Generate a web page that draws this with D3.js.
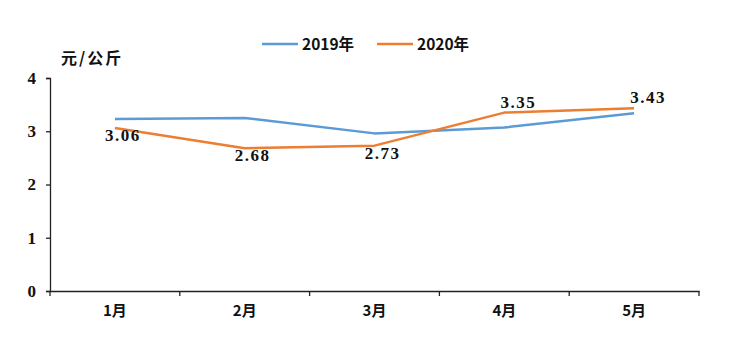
<!DOCTYPE html>
<html><head><meta charset="utf-8">
<script src="https://cdn.jsdelivr.net/npm/d3@7"></script>
<style>
body{margin:0;background:#fff;}
svg text{fill:#111;}
</style></head>
<body><svg id="c" width="749" height="345"></svg>
<script>
const categories = ["1月","2月","3月","4月","5月"];
const series2019 = [3.23, 3.25, 2.96, 3.07, 3.34];
const series2020 = [3.06, 2.68, 2.73, 3.35, 3.43];
const labels2020 = ["3.06","2.68","2.73","3.35","3.43"];
const labelPlace = ["below","below","below","above","above"];
const yTicks = [0,1,2,3,4];
const seriesNames = ["2019年","2020年"];
const colors = ["#5B9BD5","#ED7D31"];

(function(){
const svg = d3.select("#c");
const mLeft = 50, mRight = 699, mTop = 78, mBottom = 291;
const x = d3.scaleBand().domain(categories).range([mLeft, mRight]);
const y = d3.scaleLinear().domain([0,4]).range([mBottom, mTop]);

const numFont = "'Liberation Serif', 'DejaVu Serif', serif";
const cjkFont = "'Noto Sans CJK SC', sans-serif";

// y axis
const ya = svg.append("g").attr("transform",`translate(${mLeft},0)`)
  .call(d3.axisLeft(y).tickValues(yTicks).tickSize(4).tickPadding(10).tickFormat(d3.format("d")));
ya.select(".domain").attr("stroke","#222").attr("stroke-width",1.3);
ya.selectAll(".tick line").attr("stroke","#222").attr("stroke-width",1.3);
ya.selectAll(".tick text").attr("font-family",numFont).attr("font-weight","bold").attr("font-size",17).attr("fill","#111");

// x axis
const xa = svg.append("g").attr("transform",`translate(0,${mBottom})`)
  .call(d3.axisBottom(x).tickSize(0).tickPadding(14));
xa.select(".domain").attr("stroke","#222").attr("stroke-width",1.3);
xa.selectAll(".tick text").attr("font-family",cjkFont).attr("font-weight","bold").attr("font-size",15).attr("fill","#111");
const bounds = categories.map(c => x(c)).concat([x(categories[categories.length-1]) + x.bandwidth()]);
svg.append("g").selectAll("line").data(bounds).join("line")
  .attr("x1",d=>d).attr("x2",d=>d).attr("y1",mBottom).attr("y2",mBottom+5)
  .attr("stroke","#222").attr("stroke-width",1.3);

// y title
svg.append("text").attr("x",61).attr("y",64).attr("font-family",cjkFont).attr("font-weight","bold")
  .attr("font-size",16).attr("letter-spacing",2).text("元/公斤");

// lines
const line = d3.line().x((d,i)=>x(categories[i]) + x.bandwidth()/2).y(d=>y(d));
[series2019, series2020].forEach((s,k)=>{
  svg.append("path").datum(s).attr("d",line).attr("fill","none")
    .attr("stroke",colors[k]).attr("stroke-width",2.5).attr("stroke-linejoin","round");
});

// labels
svg.append("g").selectAll("text").data(series2020).join("text")
  .attr("x",(d,i)=>x(categories[i]) + x.bandwidth()/2 + (labelPlace[i]==="above" ? 14 : 8))
  .attr("y",(d,i)=>y(d) + (labelPlace[i]==="above" ? -5 : 13))
  .attr("text-anchor","middle").attr("font-family",numFont).attr("font-weight","bold")
  .attr("font-size",17).attr("letter-spacing",1.5).text((d,i)=>labels2020[i]);

// legend
const lx = [262, 377];
seriesNames.forEach((n,k)=>{
  svg.append("line").attr("x1",lx[k]).attr("x2",lx[k]+36).attr("y1",44).attr("y2",44)
    .attr("stroke",colors[k]).attr("stroke-width",2.5);
  svg.append("text").attr("x",lx[k]+40).attr("y",50).attr("font-family",cjkFont).attr("font-weight","bold")
    .attr("font-size",15.5).text(n);
});
})();
</script></body></html>
